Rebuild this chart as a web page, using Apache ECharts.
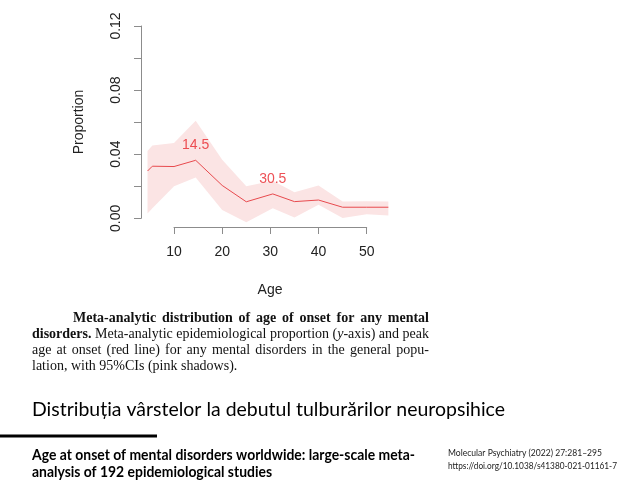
<!DOCTYPE html>
<html><head><meta charset="utf-8">
<script src="https://cdn.jsdelivr.net/npm/echarts@6/dist/echarts.min.js"></script>
<style>html,body{margin:0;padding:0;background:#fff}#c{width:632px;height:490px}</style>
</head><body><div id="c"></div>
<script>
const ages       = [4.5, 5.5, 10, 14.5, 20, 25, 30.5, 35, 40, 45, 50, 54.5];
const proportion = [0.0295, 0.0325, 0.0323, 0.0362, 0.0205, 0.0103, 0.0152, 0.0104, 0.0114, 0.0069, 0.0069, 0.0069];
const upperCI    = [0.0420, 0.0455, 0.0470, 0.0608, 0.0365, 0.0200, 0.0235, 0.0163, 0.0205, 0.0104, 0.0107, 0.0104];
const lowerCI    = [0.0030, 0.0062, 0.0200, 0.0255, 0.0052, -0.0025, 0.0062, 0.0005, 0.0085, 0.0002, 0.0025, 0.0018];
const peakAges   = [14.5, 30.5];
const yTickLabels = [0, 0.04, 0.08, 0.12];
const xTickLabels = [10, 20, 30, 40, 50];

const axisGray = '#8c8c8c';
const sans = 'Liberation Sans';
const serif = 'Liberation Serif';
const cal = 'Lato';

const mctx = document.createElement('canvas').getContext('2d');
function measure(t, size, family, weight, style) {
  mctx.font = (style || 'normal') + ' ' + (weight || 'normal') + ' ' + size + 'px "' + family + '"';
  return mctx.measureText(t).width;
}

// justified serif caption lines (word runs)
function justified(words, x0, x1, y, size) {
  const out = [];
  const widths = words.map(w => w.reduce((s, r) => s + measure(r.t, size, serif, r.b ? 'bold' : 'normal', r.i ? 'italic' : 'normal'), 0));
  const total = widths.reduce((a, b) => a + b, 0);
  const gap = words.length > 1 ? (x1 - x0 - total) / (words.length - 1) : 0;
  let x = x0;
  words.forEach((w, k) => {
    let rx = x;
    w.forEach(r => {
      out.push({type: 'text', x: rx, y: y, silent: true,
        style: {text: r.t, fontSize: size, fontFamily: serif, fontWeight: r.b ? 'bold' : 'normal', fontStyle: r.i ? 'italic' : 'normal', fill: '#111', verticalAlign: 'middle'}});
      rx += measure(r.t, size, serif, r.b ? 'bold' : 'normal', r.i ? 'italic' : 'normal');
    });
    x += widths[k] + gap;
  });
  return out;
}
function plainWords(s, bold) { return s.split(' ').map(w => [{t: w, b: bold}]); }

function fitted(t, x0, x1, y, size, family, weight, fill) {
  const w = measure(t, size, family, weight);
  return {type: 'text', x: x0, y: y, scaleX: (x1 - x0) / w, silent: true,
    style: {text: t, fontSize: size, fontFamily: family, fontWeight: weight || 'normal', fill: fill, verticalAlign: 'middle'}};
}

const captionLine1 = 'Meta-analytic distribution of age of onset for any mental';
const captionLine2 = [[{t: 'disorders.', b: true}]].concat(plainWords('Meta-analytic epidemiological proportion')).concat([[{t: '('}, {t: 'y', i: true}, {t: '-axis)'}]]).concat(plainWords('and peak'));
const captionLine3 = 'age at onset (red line) for any mental disorders in the general popu-';
const captionLine4 = 'lation, with 95%CIs (pink shadows).';

const graphics = []
  .concat(justified(plainWords(captionLine1, true), 73, 429, 318, 14))
  .concat(justified(captionLine2, 32, 429, 334, 14))
  .concat(justified(plainWords(captionLine3), 32, 429, 350, 14))
  .concat([{type: 'text', x: 32, y: 366, silent: true,
    style: {text: captionLine4, fontSize: 14, fontFamily: serif, fill: '#111', verticalAlign: 'middle'}}])
  .concat([
    {type: 'text', x: 79, y: 122, rotation: Math.PI / 2, silent: true,
     style: {text: 'Proportion', fontSize: 14, fontFamily: sans, fill: '#222', align: 'center', verticalAlign: 'middle'}},
    {type: 'text', x: 270, y: 290, silent: true,
     style: {text: 'Age', fontSize: 14, fontFamily: sans, fill: '#222', align: 'center', verticalAlign: 'middle'}},
    fitted('Distribuția vârstelor la debutul tulburărilor neuropsihice', 32, 505, 410, 19, cal, 'normal', '#000'),
    {type: 'rect', shape: {x: 0, y: 434.5, width: 157, height: 3}, style: {fill: '#000'}, silent: true},
    fitted('Age at onset of mental disorders worldwide: large-scale meta-', 32, 415, 455, 14.5, cal, 'bold', '#000'),
    fitted('analysis of 192 epidemiological studies', 32, 272, 472, 14.5, cal, 'bold', '#000'),
    fitted('Molecular Psychiatry (2022) 27:281–295', 448, 602, 453, 10, cal, 'normal', '#222'),
    fitted('https://doi.org/10.1038/s41380-021-01161-7', 448, 617, 466, 10, cal, 'normal', '#222')
  ]);

const chart = echarts.init(document.getElementById('c'), null, {renderer: 'canvas'});

const option = {
  animation: false,
  backgroundColor: '#fff',
  grid: [
    {left: 137.9, right: 234, top: 16.4, bottom: 262.1, containLabel: false, outerBoundsMode: 'none'},
    {left: 174, width: 192.7, top: 16.4, bottom: 263, containLabel: false, outerBoundsMode: 'none'},
    {left: 141, width: 200, top: 26, bottom: 271.7, containLabel: false, outerBoundsMode: 'none'}
  ],
  xAxis: [
    {gridIndex: 0, type: 'value', min: 2.5, max: 56.5, show: false},
    {gridIndex: 1, type: 'value', min: 10, max: 50, interval: 10,
     axisLine: {show: true, lineStyle: {color: axisGray, width: 1}},
     axisTick: {show: true, length: 7, lineStyle: {color: axisGray}},
     splitLine: {show: false},
     axisLabel: {margin: 18, fontSize: 14, color: '#222', fontFamily: sans,
       formatter: v => xTickLabels.indexOf(v) >= 0 ? String(v) : ''}},
    {gridIndex: 2, type: 'value', min: 0, max: 1, show: false}
  ],
  yAxis: [
    {gridIndex: 0, type: 'value', min: -0.006, max: 0.126, show: false},
    {gridIndex: 1, type: 'value', min: 0, max: 1, show: false},
    {gridIndex: 2, type: 'value', min: 0, max: 0.12, interval: 0.02,
     axisLine: {show: true, lineStyle: {color: axisGray, width: 1}},
     axisTick: {show: true, length: 7, lineStyle: {color: axisGray}},
     splitLine: {show: false},
     axisLabel: {rotate: 90, margin: 18, fontSize: 14, color: '#222', fontFamily: sans,
       formatter: v => yTickLabels.some(t => Math.abs(t - v) < 1e-9) ? v.toFixed(2) : ''}}
  ],
  series: [
    {name: '95% CI', type: 'custom', xAxisIndex: 0, yAxisIndex: 0, silent: true, z: 1,
     data: ages.map((a, i) => [a, lowerCI[i], upperCI[i]]),
     encode: {x: 0, y: [1, 2]},
     renderItem: (params, api) => {
       if (params.dataIndex !== 0) return null;
       const up = ages.map((a, i) => api.coord([a, upperCI[i]]));
       const lo = ages.map((a, i) => api.coord([a, lowerCI[i]])).reverse();
       return {type: 'polygon', shape: {points: up.concat(lo)}, style: {fill: '#fbe4e4'}};
     }},
    {name: 'proportion', type: 'line', xAxisIndex: 0, yAxisIndex: 0, symbol: 'none', z: 2,
     lineStyle: {color: '#e84a4e', width: 1},
     data: ages.map((a, i) => [a, proportion[i]])},
    {name: 'peaks', type: 'scatter', xAxisIndex: 0, yAxisIndex: 0, symbolSize: 0, z: 3, silent: true,
     label: {show: true, position: 'inside', offset: [0, -15], fontSize: 14, color: '#e8262c', fontFamily: sans,
       formatter: p => p.value[0].toFixed(1)},
     data: peakAges.map(a => [a, proportion[ages.indexOf(a)]])}
  ],
  graphic: graphics
};
chart.setOption(option);
</script>
</body></html>
